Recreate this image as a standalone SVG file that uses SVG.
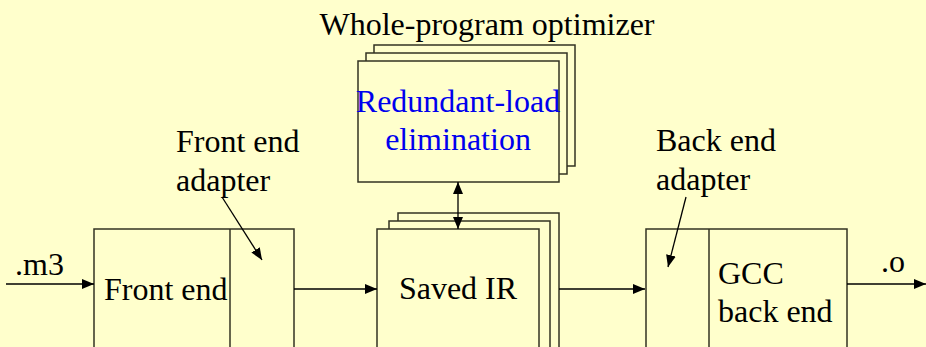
<svg xmlns="http://www.w3.org/2000/svg" width="926" height="347" viewBox="0 0 926 347">
<defs>
<marker id="ah" viewBox="0 0 12 10" refX="12" refY="5" markerWidth="12" markerHeight="10" markerUnits="userSpaceOnUse" orient="auto-start-reverse">
<path d="M0,0 L12,5 L0,10 Z" fill="#000"/>
</marker>
<style>
.box{fill:#FFFFCC;stroke:#333322;stroke-width:1.5}
.ln{stroke:#000;stroke-width:1.3;fill:none}
text{font-size:32px;fill:#000}
.blue{fill:#0000EE}
</style>
</defs>
<rect width="926" height="347" fill="#FFFFCC"/>
<g font-family="'Liberation Serif', 'DejaVu Serif', serif">
<g id="title"><text x="487" y="35" text-anchor="middle">Whole-program optimizer</text></g>
<g id="rle">
<rect class="box" x="374" y="45" width="201" height="121"/>
<rect class="box" x="366" y="53" width="201" height="121"/>
<rect class="box" x="358" y="61" width="201" height="121"/>
<text class="blue" x="458" y="112" text-anchor="middle">Redundant-load</text>
<text class="blue" x="458" y="150" text-anchor="middle">elimination</text>
</g>
<g id="savedir">
<rect class="box" x="398" y="213" width="161" height="150"/>
<rect class="box" x="389" y="221" width="161" height="150"/>
<rect class="box" x="377" y="229" width="162" height="150"/>
<text x="458" y="299" text-anchor="middle">Saved IR</text>
</g>
<g id="frontend">
<rect class="box" x="94" y="229" width="200" height="150"/>
<line class="box" x1="230" y1="229" x2="230" y2="360"/>
<text x="104" y="300">Front end</text>
</g>
<g id="backend">
<rect class="box" x="646" y="229" width="201" height="150"/>
<line class="box" x1="709" y1="229" x2="709" y2="360"/>
<text x="718" y="284">GCC</text>
<text x="718" y="322">back end</text>
</g>
<g id="fe-label"><text x="176" y="152">Front end</text><text x="176" y="191">adapter</text></g>
<g id="be-label"><text x="656" y="151">Back end</text><text x="656" y="190">adapter</text></g>
<g id="m3-label"><text x="15" y="275">.m3</text></g>
<g id="o-label"><text x="881" y="272">.o</text></g>
</g>
<g id="connectors">
<line class="ln" x1="6" y1="284" x2="94" y2="284" marker-end="url(#ah)"/>
<line class="ln" x1="294" y1="289" x2="377" y2="289" marker-end="url(#ah)"/>
<line class="ln" x1="559" y1="289" x2="645" y2="289" marker-end="url(#ah)"/>
<line class="ln" x1="847" y1="284" x2="926" y2="284" marker-end="url(#ah)"/>
<line class="ln" x1="458" y1="182" x2="458" y2="229" marker-start="url(#ah)" marker-end="url(#ah)"/>
<line class="ln" x1="222" y1="197" x2="262" y2="260" marker-end="url(#ah)"/>
<line class="ln" x1="686" y1="197" x2="668" y2="267" marker-end="url(#ah)"/>
</g>
</svg>
